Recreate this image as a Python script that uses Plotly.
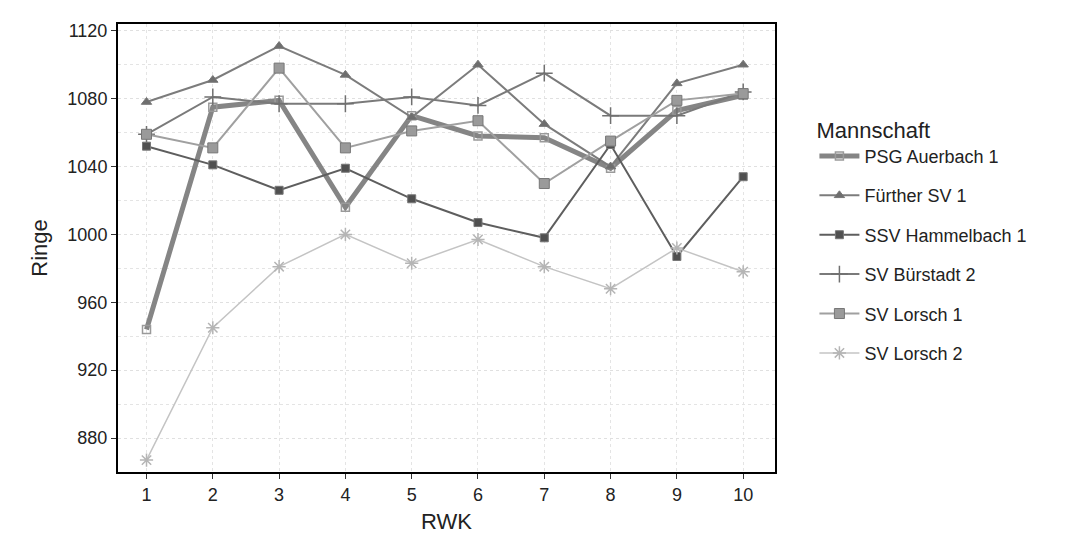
import plotly.graph_objects as go

rwk = [1, 2, 3, 4, 5, 6, 7, 8, 9, 10]

psg_auerbach_1 = [944, 1075, 1079, 1016, 1070, 1058, 1057, 1039, 1073, 1082]
fuerther_sv_1 = [1078, 1091, 1111, 1094, 1069, 1100, 1065, 1040, 1089, 1100]
ssv_hammelbach_1 = [1052, 1041, 1026, 1039, 1021, 1007, 998, 1053, 987, 1034]
sv_buerstadt_2 = [1059, 1081, 1077, 1077, 1081, 1076, 1095, 1070, 1070, 1084]
sv_lorsch_1 = [1059, 1051, 1098, 1051, 1061, 1067, 1030, 1055, 1079, 1083]
sv_lorsch_2 = [867, 945, 981, 1000, 983, 997, 981, 968, 992, 978]

y_ticks = [880, 920, 960, 1000, 1040, 1080, 1120]

series = [
    ("PSG Auerbach 1", psg_auerbach_1, "#858585", 5, "square-open", 8, "#9a9a9a"),
    ("Fürther SV 1", fuerther_sv_1, "#7c7c7c", 2, "triangle-up", 9, "#6e6e6e"),
    ("SSV Hammelbach 1", ssv_hammelbach_1, "#5e5e5e", 2, "square", 8, "#505050"),
    ("SV Bürstadt 2", sv_buerstadt_2, "#7a7a7a", 2, "cross-thin-open", 12, "#707070"),
    ("SV Lorsch 1", sv_lorsch_1, "#a0a0a0", 2, "square", 10, "#9a9a9a"),
    ("SV Lorsch 2", sv_lorsch_2, "#c4c4c4", 1.5, "asterisk-open", 11, "#b5b5b5"),
]

fig = go.Figure()
for i, (name, vals, lc, lw, sym, ms, mc) in enumerate(series):
    marker = dict(symbol=sym, size=ms, color=mc)
    if sym.endswith("open"):
        marker["line"] = dict(color=mc, width=1.5)
    else:
        marker["line"] = dict(color="#777777", width=1)
    fig.add_trace(go.Scatter(
        x=rwk, y=vals, name=name, mode="lines+markers",
        line=dict(color=lc, width=lw), marker=marker,
        legendgroup=f"g{i}",
    ))

fig.update_layout(
    width=1072, height=538,
    margin=dict(l=110, r=305, t=16, b=74),
    paper_bgcolor="white", plot_bgcolor="white",
    font=dict(family="Liberation Sans, Arial, sans-serif", size=18, color="#222222"),
    legend=dict(
        title=dict(text="Mannschaft", font=dict(size=22, color="#222222")),
        x=1.06, xanchor="left", y=0.81, yanchor="top",
        tracegroupgap=13, font=dict(size=18), itemwidth=40,
    ),
    showlegend=True,
)
fig.update_xaxes(
    range=[0.57, 10.48], tickmode="array", tickvals=rwk,
    ticktext=[str(v) for v in rwk],
    title=dict(text="RWK", font=dict(size=22), standoff=10),
    showgrid=True, gridcolor="#e4e4e4", griddash="dot", gridwidth=1,
    showline=True, linecolor="black", linewidth=2, mirror=True,
    ticks="outside", ticklen=5, tickcolor="#333", zeroline=False,
    tickfont=dict(size=18),
)
fig.update_yaxes(
    range=[860, 1124], tickmode="array", tickvals=y_ticks,
    title=dict(text="Ringe", font=dict(size=22), standoff=14),
    showgrid=True, gridcolor="#e0e0e0", griddash="dot", gridwidth=1,
    minor=dict(dtick=20, tick0=860, showgrid=True, gridcolor="#e4e4e4", griddash="dot"),
    showline=True, linecolor="black", linewidth=2, mirror=True,
    ticks="outside", ticklen=5, tickcolor="#333", zeroline=False,
    tickfont=dict(size=18),
)

fig.write_html("out.html")
